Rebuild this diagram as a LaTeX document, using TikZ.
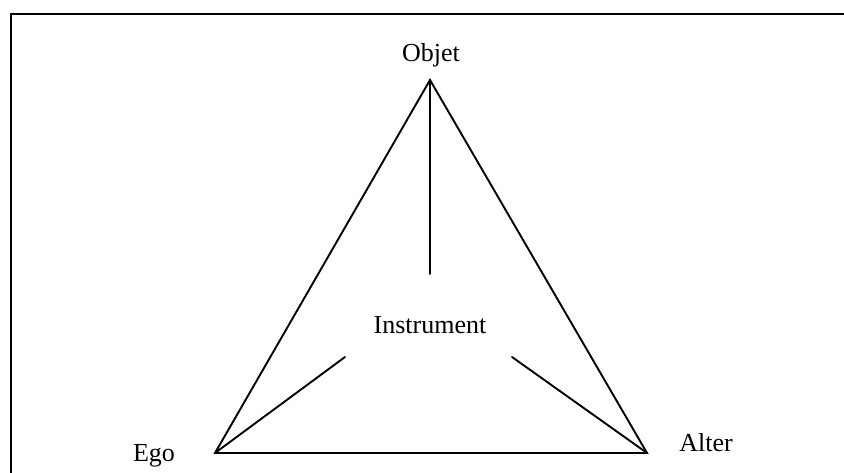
\documentclass[tikz,border=0pt]{standalone}
\usepackage{fontspec}
\setmainfont{Liberation Serif}
\begin{document}
\begin{tikzpicture}[x=1pt,y=1pt,
  edge/.style={line width=1.9pt, line cap=round},
  lab/.style={anchor=base, inner sep=0pt, font=\fontsize{26}{30}\selectfont}]
\useasboundingbox (0,0) rectangle (844,473);
\begin{scope}
\clip (0,0) rectangle (844,473);
\draw[line width=2.2pt] (11,-20) -- (11,459) -- (860,459);
\end{scope}
\coordinate (apex) at (430,393);
\coordinate (ego) at (215,20);
\coordinate (alter) at (647,20);
\coordinate (vend) at (430,199);
\coordinate (eend) at (345,116);
\coordinate (aend) at (512,116);
\draw[edge, line join=miter] (apex) -- (ego) -- (alter) -- cycle;
\draw[edge] (apex) -- (vend);
\draw[edge] (ego) -- (eend);
\draw[edge] (alter) -- (aend);
\node[lab] (objet) at (431,411) {Objet};
\node[lab] (instr) at (430,139) {Instrument};
\node[lab] (egol) at (154,11) {Ego};
\node[lab] (alterl) at (706,21) {Alter};
\end{tikzpicture}
\end{document}
